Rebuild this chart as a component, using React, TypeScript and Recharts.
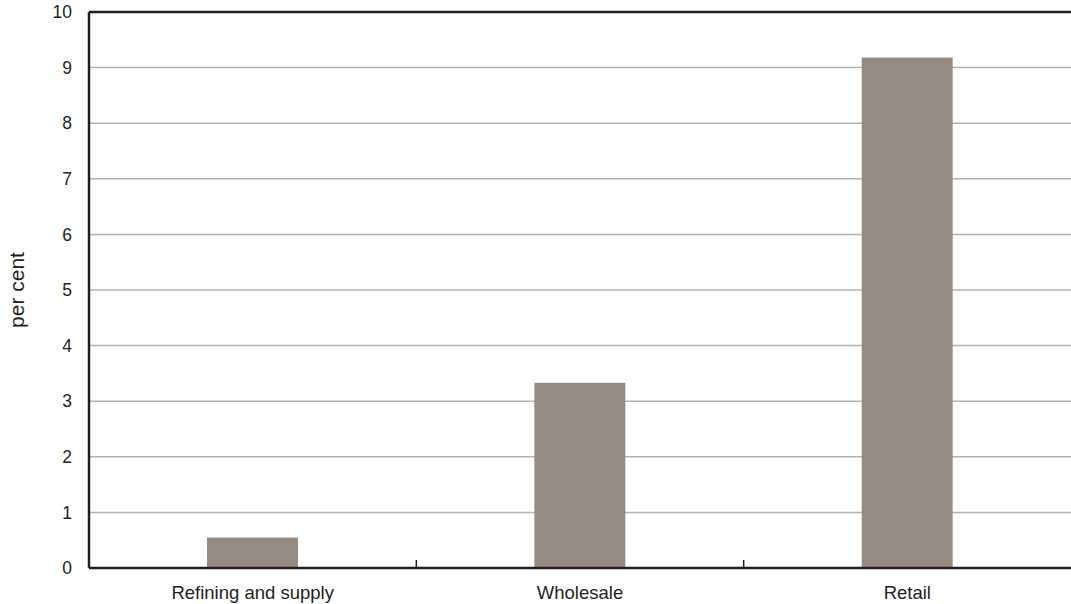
import { BarChart, Bar, XAxis, YAxis, CartesianGrid, ReferenceLine } from "recharts"

const categories = ["Refining and supply", "Wholesale", "Retail"]
const values = [0.55, 3.33, 9.18]
const yTicks = [0, 1, 2, 3, 4, 5, 6, 7, 8, 9, 10]

const data = categories.map((name, i) => ({ name, value: values[i] }))

const FONT = "'Liberation Sans', Arial, sans-serif"
const INK = "#231f20"

function CategoryTick(props: any) {
  const { x, y, payload, index } = props
  const offset = payload.offset ?? 0
  return (
    <g>
      <text
        x={x}
        y={y + 31}
        textAnchor="middle"
        fontFamily={FONT}
        fontSize={18.5}
        fill={INK}
      >
        {payload.value}
      </text>
      {index < categories.length - 1 && (
        <line x1={x + offset} x2={x + offset} y1={y - 8} y2={y} stroke={INK} strokeWidth={1.5} />
      )}
    </g>
  )
}

function YLabel(props: any) {
  const vb = props.viewBox || {}
  const cx = vb.x + 16
  const cy = vb.y + vb.height / 2
  return (
    <text
      x={cx}
      y={cy}
      transform={`rotate(-90, ${cx}, ${cy})`}
      textAnchor="middle"
      dominantBaseline="central"
      fontFamily={FONT}
      fontSize={21}
      fill={INK}
    >
      per cent
    </text>
  )
}

export default function App() {
  return (
    <div style={{ position: "fixed", left: 0, top: 0, background: "#fff" }}>
      <BarChart
        width={1071}
        height={604}
        data={data}
        margin={{ top: 12, right: 0, bottom: 0, left: 0 }}
        barSize={91}
      >
        <CartesianGrid vertical={false} stroke="#b3b3b3" strokeWidth={1.5} />
        <XAxis
          dataKey="name"
          height={36}
          interval={0}
          tickLine={false}
          tickSize={0}
          tickMargin={0}
          axisLine={{ stroke: INK, strokeWidth: 2.5 }}
          tick={<CategoryTick />}
        />
        <YAxis
          width={89}
          domain={[0, 10]}
          ticks={yTicks}
          interval={0}
          tickLine={false}
          tickSize={0}
          tickMargin={17}
          axisLine={{ stroke: INK, strokeWidth: 2.5 }}
          tick={{ fill: INK, fontSize: 17.5, fontFamily: FONT }}
          label={<YLabel />}
        />
        <ReferenceLine y={10} stroke={INK} strokeWidth={2.5} />
        <Bar dataKey="value" fill="#978b81" isAnimationActive={false} />
      </BarChart>
    </div>
  )
}
